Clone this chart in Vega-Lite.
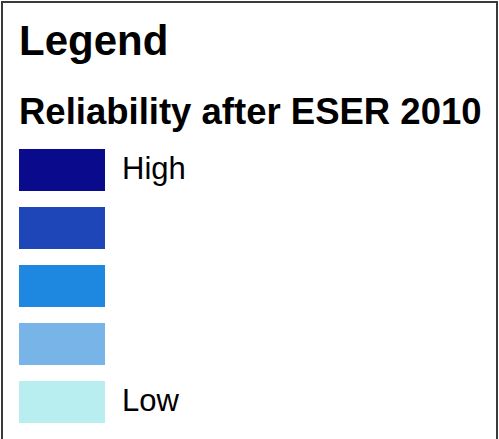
{
  "$schema": "https://vega.github.io/schema/vega-lite/v6.json",
  "width": 495,
  "height": 440,
  "autosize": "none",
  "padding": {"left": 2, "top": 2, "right": 2, "bottom": 0},
  "background": "white",
  "view": {"stroke": "#3a3a3a", "strokeWidth": 2, "strokeOpacity": 1, "fill": "white"},
  "title": {
    "text": "Legend",
    "anchor": "start",
    "frame": "group",
    "font": "Liberation Sans",
    "fontSize": 42,
    "fontWeight": "bold",
    "color": "black",
    "baseline": "alphabetic",
    "dx": 17,
    "dy": 42,
    "offset": -53
  },
  "data": {
    "values": [
      {"reliability": "High"},
      {"reliability": "Medium-high"},
      {"reliability": "Medium"},
      {"reliability": "Medium-low"},
      {"reliability": "Low"}
    ]
  },
  "mark": {"type": "square", "opacity": 0},
  "encoding": {
    "color": {
      "field": "reliability",
      "type": "nominal",
      "sort": null,
      "scale": {
        "domain": ["High", "Medium-high", "Medium", "Medium-low", "Low"],
        "range": ["#0a0a8c", "#1e46b8", "#1e88e0", "#78b4e8", "#b8eef0"]
      },
      "legend": {
        "title": "Reliability after ESER 2010",
        "orient": "none",
        "direction": "vertical",
        "legendX": 17,
        "legendY": 93,
        "padding": 0,
        "titleFont": "Liberation Sans",
        "titleFontSize": 36.5,
        "titleFontWeight": "bold",
        "titleColor": "black",
        "titleBaseline": "top",
        "titlePadding": 2,
        "titleLimit": 600,
        "symbolType": "M-1.178,-0.575H1.178V0.575H-1.178Z",
        "symbolSize": 5329,
        "symbolOffset": 6.5,
        "symbolOpacity": 1,
        "symbolStrokeWidth": 0,
        "rowPadding": 0,
        "labelFont": "Liberation Sans",
        "labelFontSize": 31,
        "labelColor": "black",
        "labelOffset": 23.5,
        "labelExpr": "datum.label == 'High' || datum.label == 'Low' ? datum.label : ''"
      }
    }
  }
}
